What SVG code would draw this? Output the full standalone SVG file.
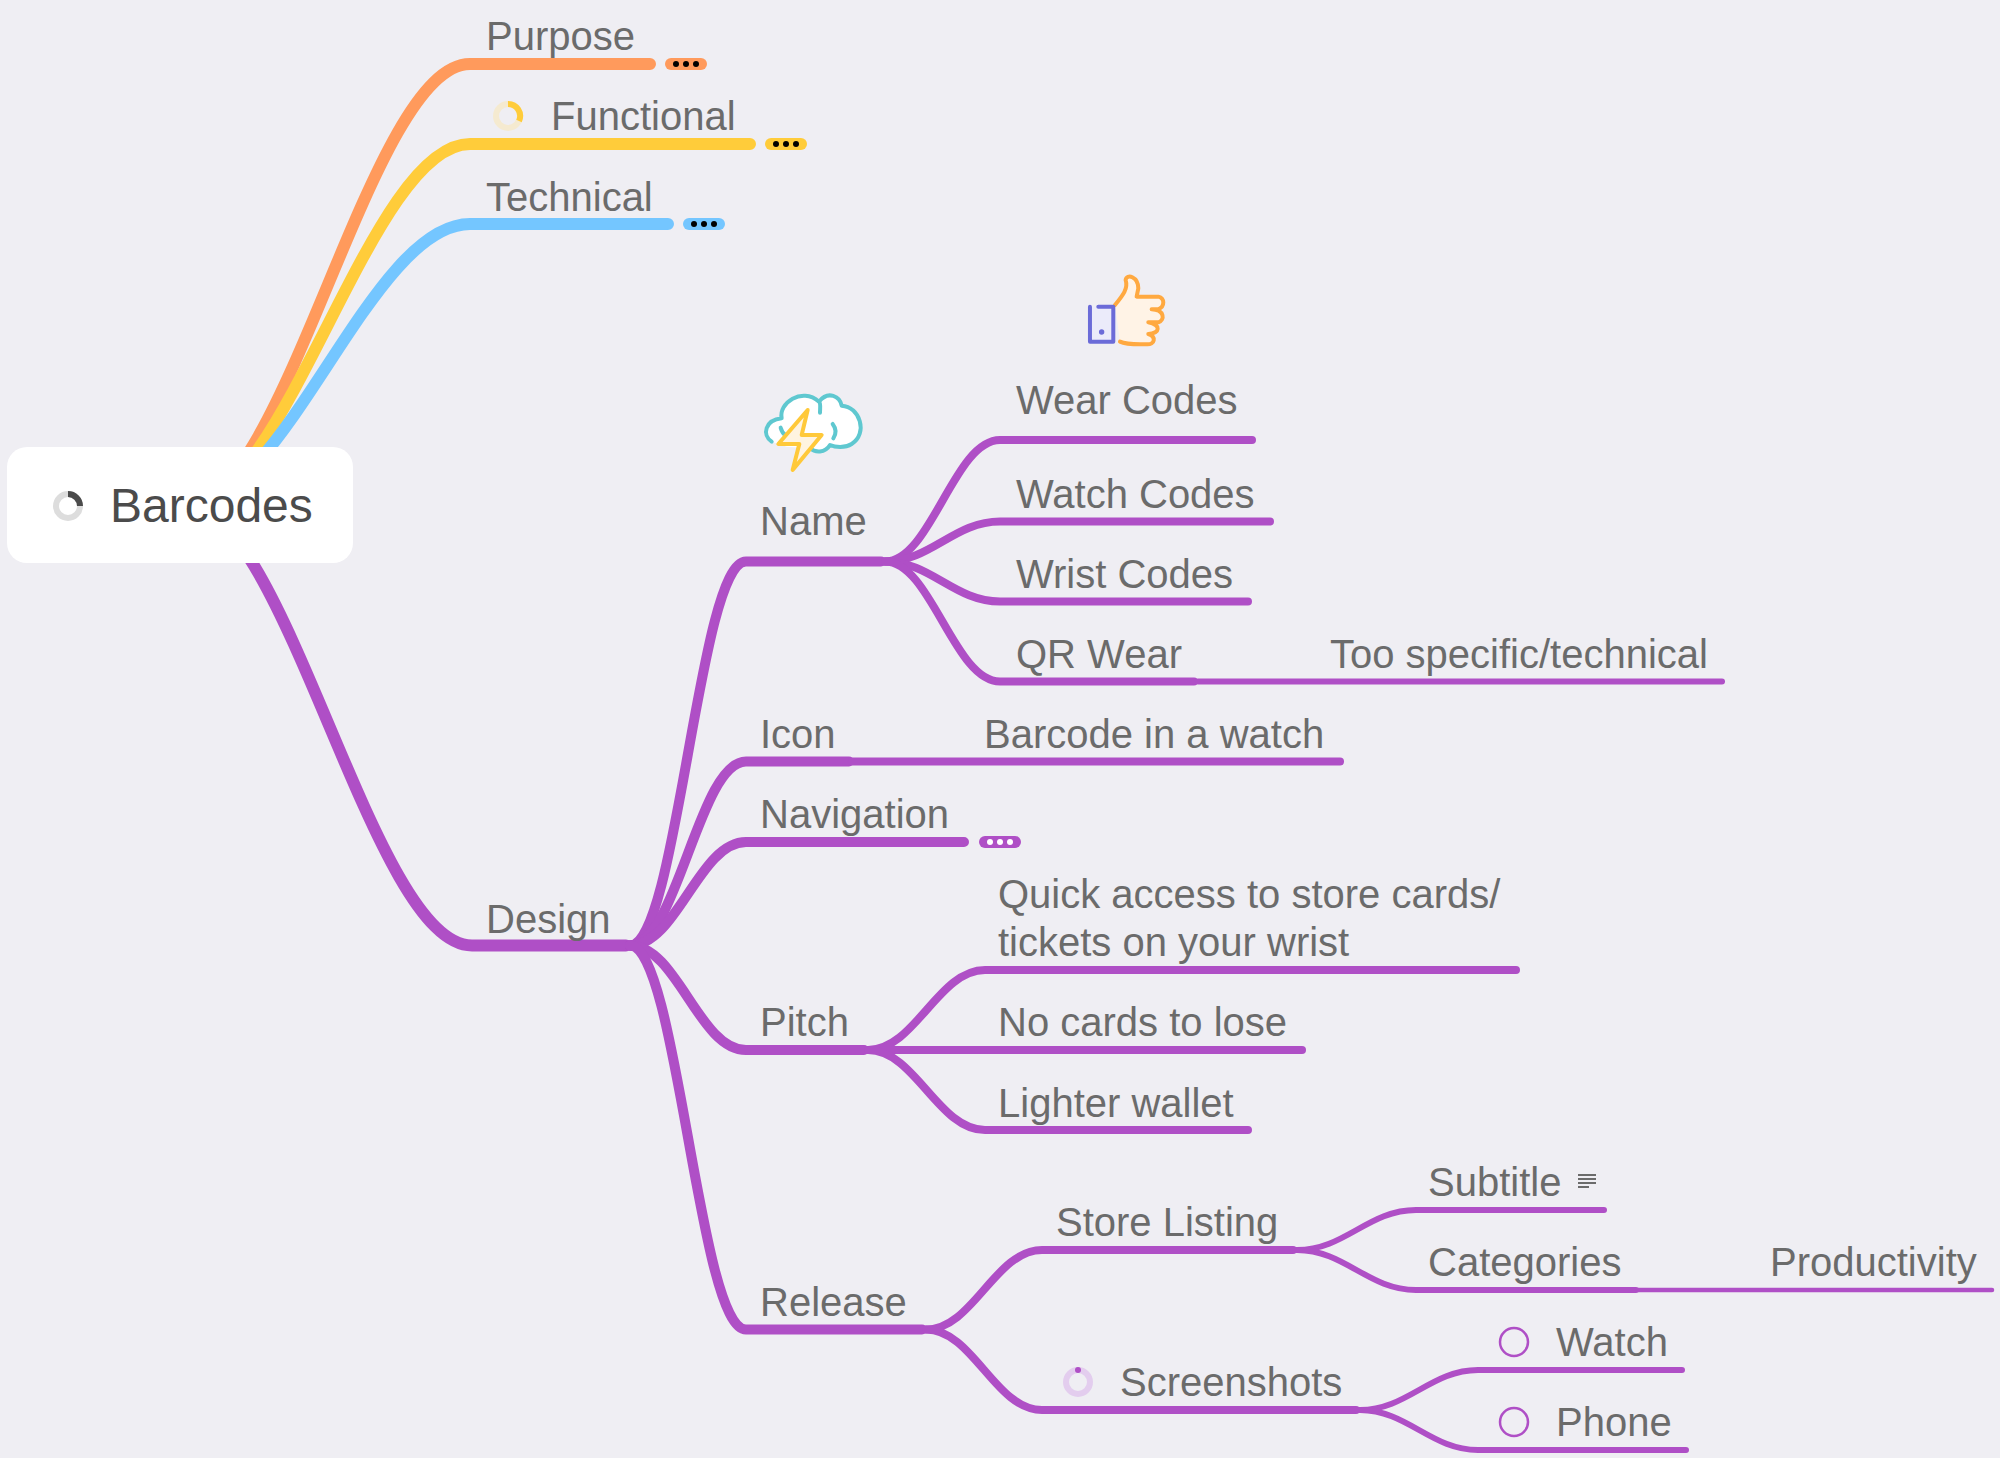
<svg xmlns="http://www.w3.org/2000/svg" width="2000" height="1458" viewBox="0 0 2000 1458">
<style>
text{font-family:"Liberation Sans",Arial,sans-serif;font-size:40px;fill:#6b6b6b}
.root{font-size:48px;fill:#4b4b4b}
.c{fill:none;stroke-linecap:round;stroke-linejoin:round}
.p{stroke:#af4fc6}
.w12{stroke-width:12px}.w10{stroke-width:10px}.w8{stroke-width:8px}.w6{stroke-width:6px}.w4{stroke-width:4.5px}
</style>
<rect width="2000" height="1458" fill="#efeef3"/>
<g id="connectors">
<path class="c w12" stroke="#ff9a5c" d="M186 505C286 505 370 64 470 64H650"/>
<path class="c w12" stroke="#ffcc3a" d="M186 505C286 505 370 144 470 144H750"/>
<path class="c w12" stroke="#74c6ff" d="M186 505C286 505 370 224 470 224H668"/>
<path class="c p w12" d="M186 505C286 505 372 945.500 472 945.500H626"/>
<path class="c p w10" d="M630 945.500C677 945.500 699 561.500 746 561.500H881"/>
<path class="c p w10" d="M630 945.500C677 945.500 699 761.500 746 761.500H849"/>
<path class="c p w10" d="M630 945.500C677 945.500 699 842 746 842H964"/>
<path class="c p w10" d="M630 945.500C677 945.500 699 1050 746 1050H864"/>
<path class="c p w10" d="M630 945.500C677 945.500 699 1329.500 746 1329.500H922"/>
<path class="c p w8" d="M852 761.500H1340"/>
<path class="c p w8" d="M885 561.500C931 561.500 954 440 1000 440H1252"/>
<path class="c p w8" d="M885 561.500C931 561.500 954 521.500 1000 521.500H1270"/>
<path class="c p w8" d="M885 561.500C931 561.500 954 601.500 1000 601.500H1248"/>
<path class="c p w8" d="M885 561.500C931 561.500 954 681.500 1000 681.500H1194"/>
<path class="c p w6" d="M1198 681.500H1722"/>
<path class="c p w8" d="M868 1050C915 1050 938 970 985 970H1516"/>
<path class="c p w8" d="M868 1050H1302"/>
<path class="c p w8" d="M868 1050C915 1050 938 1130 985 1130H1248"/>
<path class="c p w8" d="M926 1329.500C973 1329.500 995 1250 1042 1250H1293"/>
<path class="c p w8" d="M926 1329.500C973 1329.500 995 1410 1042 1410H1356"/>
<path class="c p w6" d="M1297 1250C1345 1250 1368 1210 1416 1210H1604"/>
<path class="c p w6" d="M1297 1250C1345 1250 1368 1290 1416 1290H1636"/>
<path class="c p w4" d="M1638 1290H1992"/>
<path class="c p w6" d="M1360 1410C1407 1410 1431 1370 1478 1370H1682"/>
<path class="c p w6" d="M1360 1410C1407 1410 1431 1450 1478 1450H1686"/>
</g>
<g id="node-barcodes">
<rect x="7" y="447" width="346" height="116" rx="20" fill="#fff"/>
<circle cx="68" cy="506" r="12" fill="none" stroke="#ddd" stroke-width="6"/>
<path d="M68 494A12 12 0 0 1 80 506" fill="none" stroke="#4b4b4b" stroke-width="6"/>
<text class="root" x="110" y="522">Barcodes</text>
</g>
<g id="node-purpose">
<text x="486" y="50">Purpose</text>
<rect x="665" y="58" width="42" height="12" rx="6" fill="#ff9a5c"/>
<g fill="#000"><circle cx="676" cy="64" r="3"/><circle cx="686" cy="64" r="3"/><circle cx="696" cy="64" r="3"/></g>
</g>
<g id="node-functional">
<circle cx="508" cy="116" r="12" fill="none" stroke="#f5ead0" stroke-width="6"/>
<path d="M508 104A12 12 0 0 1 519 121" fill="none" stroke="#ffcc3a" stroke-width="6"/>
<text x="551" y="130">Functional</text>
<rect x="765" y="138" width="42" height="12" rx="6" fill="#ffcc3a"/>
<g fill="#000"><circle cx="776" cy="144" r="3"/><circle cx="786" cy="144" r="3"/><circle cx="796" cy="144" r="3"/></g>
</g>
<g id="node-technical">
<text x="486" y="210.500">Technical</text>
<rect x="683" y="218" width="42" height="12" rx="6" fill="#74c6ff"/>
<g fill="#000"><circle cx="694" cy="224" r="3"/><circle cx="704" cy="224" r="3"/><circle cx="714" cy="224" r="3"/></g>
</g>
<g id="node-design"><text x="486" y="933">Design</text></g>
<g id="node-name">
<g transform="translate(740 260) scale(.3333)" stroke-width="12" stroke-linecap="round" stroke-linejoin="round">
<path d="M95 545C65 525 75 480 125 475C115 430 185 380 237 425C265 390 300 410 305 437C360 440 385 520 335 552C315 565 285 562 270 555C255 580 225 578 210 565L140 560Z" fill="#fff" stroke="none"/>
<path d="M95 545C65 525 75 480 125 475C115 430 185 380 237 425C265 390 300 410 305 437C360 440 385 520 335 552C315 565 285 562 270 555C255 580 225 578 210 565M240 458C240 445 243 430 237 425M122 503C125 515 130 522 138 527M278 492C288 505 290 520 280 535" fill="none" stroke="#5fc8d0"/>
<path d="M203 450L115 552H178L158 630L245 525H185Z" fill="#fff4e0" stroke="#ffc93a"/>
</g>
<text x="760" y="534.500">Name</text>
</g>
<g id="node-icon"><text x="760" y="748">Icon</text></g>
<g id="node-navigation">
<text x="760" y="828">Navigation</text>
<rect x="979" y="836" width="42" height="12" rx="6" fill="#af4fc6"/>
<g fill="#fff"><circle cx="990" cy="842" r="3"/><circle cx="1000" cy="842" r="3"/><circle cx="1010" cy="842" r="3"/></g>
</g>
<g id="node-pitch"><text x="760" y="1036">Pitch</text></g>
<g id="node-release"><text x="760" y="1316">Release</text></g>
<g id="node-wear-codes">
<g transform="translate(740 260) scale(.3333)" stroke-width="12" stroke-linecap="round" stroke-linejoin="round">
<path d="M1125 135C1150 105 1165 85 1157 60C1160 40 1195 50 1195 85L1190 110H1255C1275 115 1275 140 1255 148H1235C1275 150 1275 180 1255 187H1225C1265 195 1260 220 1225 222C1250 230 1245 255 1220 253C1190 253 1160 255 1140 245Z" fill="#fff3e6" stroke="none"/>
<path d="M1125 135C1150 105 1165 85 1157 60C1160 40 1195 50 1195 85L1190 110H1255C1275 115 1275 140 1255 148H1235C1275 150 1275 180 1255 187H1225C1265 195 1260 220 1225 222C1250 230 1245 255 1220 253C1190 253 1160 255 1140 245" fill="none" stroke="#ffa940"/>
<path d="M1050 140V245H1120V140H1075" fill="#ebebfa" stroke="#6b6bd8"/>
<circle cx="1085" cy="216" r="8" fill="#6b6bd8"/>
</g>
<text x="1016" y="414">Wear Codes</text>
</g>
<g id="node-watch-codes"><text x="1016" y="508">Watch Codes</text></g>
<g id="node-wrist-codes"><text x="1016" y="588">Wrist Codes</text></g>
<g id="node-qr-wear"><text x="1016" y="668">QR Wear</text></g>
<g id="node-too-specific"><text x="1330" y="668">Too specific/technical</text></g>
<g id="node-barcode-watch"><text x="984" y="748">Barcode in a watch</text></g>
<g id="node-quick"><text x="998" y="908">Quick access to store cards/</text><text x="998" y="956">tickets on your wrist</text></g>
<g id="node-no-cards"><text x="998" y="1036">No cards to lose</text></g>
<g id="node-lighter"><text x="998" y="1116.500">Lighter wallet</text></g>
<g id="node-store"><text x="1056" y="1236">Store Listing</text></g>
<g id="node-screenshots">
<circle cx="1078" cy="1382" r="12" fill="none" stroke="#e3cdee" stroke-width="6"/>
<circle cx="1078" cy="1370" r="3" fill="#af4fc6"/>
<text x="1120" y="1396">Screenshots</text>
</g>
<g id="node-subtitle">
<text x="1428" y="1196">Subtitle</text>
<path d="M1578 1175H1596M1578 1179H1596M1578 1183H1596M1578 1187H1589" stroke="#6b6b6b" stroke-width="1.800" fill="none"/>
</g>
<g id="node-categories"><text x="1428" y="1276">Categories</text></g>
<g id="node-productivity"><text x="1770" y="1276">Productivity</text></g>
<g id="node-watch">
<circle cx="1514" cy="1342" r="14" fill="none" stroke="#af4fc6" stroke-width="2.500"/>
<text x="1556" y="1356">Watch</text>
</g>
<g id="node-phone">
<circle cx="1514" cy="1422" r="14" fill="none" stroke="#af4fc6" stroke-width="2.500"/>
<text x="1556" y="1436">Phone</text>
</g>
</svg>
